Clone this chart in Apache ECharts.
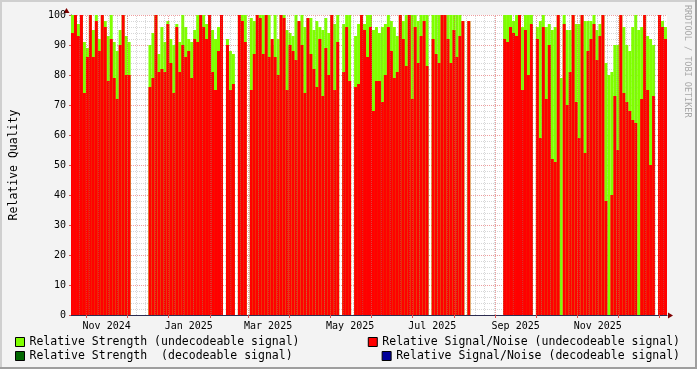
<!DOCTYPE html>
<html><head><meta charset="utf-8">
<script src="https://cdn.jsdelivr.net/npm/echarts@6/dist/echarts.min.js"></script>
<style>html,body{margin:0;padding:0;background:#F3F3F3}#c{width:697px;height:369px}</style>
</head><body><div id="c"></div><script>
// ---- data (one value per plotted column, null = no data) ----
const seriesNames = [
  'Relative Strength (undecodeable signal)',
  'Relative Signal/Noise (undecodeable signal)',
  'Relative Strength  (decodeable signal)',
  'Relative Signal/Noise (decodeable signal)'
];
const startDate = '2024-10-20T12:00:00Z';
const endDate = '2026-01-06T12:00:00Z';
const xLabelDates = ['2024-11-16','2025-01-16','2025-03-16','2025-05-16','2025-07-16','2025-09-16','2025-11-16'];
const yTicks = [0,10,20,30,40,50,60,70,80,90,100];

const signalNoise = [
  94,100,93,100,74,86,100,86,98,88,
  100,96,78,92,79,72,90,100,80,80,
  null,null,null,null,null,null,76,79,100,81,
  82,81,97,84,74,96,81,90,86,88,
  79,92,91,100,96,92,100,81,75,88,
  100,null,90,75,77,null,100,98,91,null,
  75,87,100,99,87,100,86,92,86,80,
  100,99,75,90,88,85,98,90,74,99,
  87,82,76,92,73,89,80,100,75,91,
  null,81,96,78,null,76,77,100,95,86,
  96,68,78,78,71,80,96,88,79,81,
  100,92,83,100,72,96,84,93,98,83,
  null,92,87,84,100,100,92,84,95,86,
  93,98,null,98,null,null,null,null,null,null,
  null,null,null,null,null,92,91,96,94,93,
  100,75,95,80,97,null,92,59,96,72,
  90,52,51,100,0,97,70,81,100,71,
  59,100,54,88,92,97,85,93,100,38,
  0,40,73,55,100,74,71,68,65,64,
  0,72,100,75,50,73,null,100,96,92
];
const strength = [
  100,100,97,100,91,89,100,95,100,92,
  100,98,93,100,91,88,95,100,93,91,
  null,null,null,null,null,null,90,94,100,87,
  96,91,98,92,90,97,91,100,96,92,
  91,95,100,100,100,97,100,95,92,96,
  100,null,92,88,87,null,100,100,100,null,
  99,98,100,100,100,100,100,90,100,92,
  100,100,95,94,93,100,98,100,96,99,
  99,95,98,96,95,99,94,100,97,100,
  null,97,100,100,null,93,97,100,97,100,
  100,95,96,94,96,97,100,98,96,93,
  100,98,100,100,100,100,98,100,100,100,
  null,100,100,100,100,100,100,100,100,100,
  100,98,null,98,null,null,null,null,null,null,
  null,null,null,null,null,100,100,100,98,100,
  100,96,100,100,100,null,96,98,100,96,
  97,95,96,100,79,100,95,95,100,97,
  97,100,98,98,98,100,95,97,100,84,
  80,81,90,90,100,96,90,88,96,100,
  95,96,100,93,92,90,null,100,98,96
];
const strengthDecodeable = [];
const signalNoiseDecodeable = [];

// ---- build ----
const DAY = 86400000;
const t0 = Date.parse(startDate), t1 = Date.parse(endDate);
const nCols = signalNoise.length;
const categories = signalNoise.map((_, i) => new Date(t0 + (t1 - t0) * i / nCols).toISOString().slice(0, 10));
const MONTHS = ['Jan','Feb','Mar','Apr','May','Jun','Jul','Aug','Sep','Oct','Nov','Dec'];
const labelTimes = xLabelDates.map(d => Date.parse(d + 'T00:00:00Z'));
const monthStarts = [], weekStarts = [];
{
  const d = new Date(t0);
  let m = Date.UTC(d.getUTCFullYear(), d.getUTCMonth() + 1, 1);
  while (m < t1) { monthStarts.push(m); const md = new Date(m); m = Date.UTC(md.getUTCFullYear(), md.getUTCMonth() + 1, 1); }
  let s = Date.UTC(d.getUTCFullYear(), d.getUTCMonth(), d.getUTCDate());
  while (new Date(s).getUTCDay() !== 0) s += DAY;
  for (; s < t1; s += 7 * DAY) weekStarts.push(s);
}
const FONT = 'DejaVu Sans Mono';
const legendBase = {
  orient: 'horizontal', itemWidth: 9, itemHeight: 9, itemGap: 0, padding: 0,
  selectedMode: false, icon: 'rect',
  textStyle: { fontFamily: FONT, fontSize: 11.5, color: '#000' },
  itemStyle: { borderColor: '#000', borderWidth: 1 }
};
const chart = echarts.init(document.getElementById('c'), null, { renderer: 'canvas' });
chart.setOption({
  animation: false,
  backgroundColor: '#F3F3F3',
  grid: { left: 67, top: 15, width: 600, height: 300, backgroundColor: '#FFFFFF', show: true, borderWidth: 0 },
  legend: [
    Object.assign({}, legendBase, { data: [seriesNames[0]], left: 15, top: 336 }),
    Object.assign({}, legendBase, { data: [seriesNames[2]], left: 15, top: 350 }),
    Object.assign({}, legendBase, { data: [seriesNames[1]], right: 17, top: 336 }),
    Object.assign({}, legendBase, { data: [seriesNames[3]], right: 17, top: 350 })
  ],
  xAxis: [
    { type: 'category', data: categories, show: false, boundaryGap: true },
    {
      type: 'value', min: t0, max: t1, position: 'bottom', scale: true,
      axisLine: { show: true, lineStyle: { color: '#2C2C50', width: 1 } },
      axisTick: { show: true, customValues: monthStarts, length: 3, lineStyle: { color: '#DE5050' } },
      axisLabel: {
        customValues: labelTimes, fontFamily: FONT, fontSize: 10, color: '#000', margin: 6,
        formatter: v => { const d = new Date(v); return MONTHS[d.getUTCMonth()] + ' ' + d.getUTCFullYear(); }
      },
      splitLine: { show: false }
    }
  ],
  yAxis: {
    type: 'value', min: yTicks[0], max: yTicks[yTicks.length - 1], interval: 10,
    name: 'Relative Quality', nameLocation: 'middle', nameGap: 51,
    nameTextStyle: { fontFamily: FONT, fontSize: 11.5, color: '#000' },
    axisLine: { show: true, lineStyle: { color: '#2C2C50' } },
    axisTick: { show: true, length: 2, lineStyle: { color: '#DE5050' } },
    axisLabel: { fontFamily: FONT, fontSize: 10, color: '#000', margin: 5 },
    splitLine: { show: true, lineStyle: { color: 'rgba(222,80,80,0.55)', type: [1, 1] } },
    minorTick: { show: false, splitNumber: 5 },
    minorSplitLine: { show: true, lineStyle: { color: 'rgba(140,140,140,0.35)', type: [1, 1] } }
  },
  series: [
    { name: seriesNames[0], type: 'bar', xAxisIndex: 0, data: strength, barGap: '-100%', barCategoryGap: '0%',
      itemStyle: { color: '#7FFF00' }, z: 2 },
    { name: seriesNames[1], type: 'bar', xAxisIndex: 0, data: signalNoise, barGap: '-100%', barCategoryGap: '0%',
      itemStyle: { color: '#FF0000' }, z: 2 },
    { name: seriesNames[2], type: 'bar', xAxisIndex: 0, data: strengthDecodeable, barGap: '-100%', barCategoryGap: '0%',
      itemStyle: { color: '#006600' }, z: 2 },
    { name: seriesNames[3], type: 'bar', xAxisIndex: 0, data: signalNoiseDecodeable, barGap: '-100%', barCategoryGap: '0%',
      itemStyle: { color: '#000099' }, z: 2 },
    { name: 'grid', type: 'line', xAxisIndex: 1, yAxisIndex: 0, data: [], z: 1, silent: true,
      markLine: {
        silent: true, symbol: ['none', 'none'], label: { show: false }, animation: false,
        data: weekStarts.map(t => ({ xAxis: t, lineStyle: { color: 'rgba(140,140,140,0.35)', type: [1, 1], width: 1 } }))
          .concat(monthStarts.map(t => ({ xAxis: t, lineStyle: { color: 'rgba(222,80,80,0.55)', type: [1, 1], width: 1 } })))
      }
    }
  ],
  graphic: [
    { type: 'rect', shape: { x: 0, y: 0, width: 697, height: 2 }, style: { fill: '#CFCFCF' }, silent: true },
    { type: 'rect', shape: { x: 0, y: 0, width: 2, height: 369 }, style: { fill: '#CFCFCF' }, silent: true },
    { type: 'rect', shape: { x: 0, y: 367, width: 697, height: 2 }, style: { fill: '#9E9E9E' }, silent: true },
    { type: 'rect', shape: { x: 695, y: 0, width: 2, height: 369 }, style: { fill: '#9E9E9E' }, silent: true },
    { type: 'polygon', shape: { points: [[66.5, 8], [63.5, 13], [69.5, 13]] }, style: { fill: '#7F0000' }, silent: true },
    { type: 'polygon', shape: { points: [[673, 315.5], [668, 312.5], [668, 318.5]] }, style: { fill: '#7F0000' }, silent: true },
    { type: 'text', x: 687.5, y: 5, rotation: -Math.PI / 2, silent: true,
      style: { text: 'RRDTOOL / TOBI OETIKER', font: '8.5px "DejaVu Sans Mono"', fill: '#A8A8A8', textAlign: 'left', textVerticalAlign: 'middle' } }
  ]
});
</script></body></html>
